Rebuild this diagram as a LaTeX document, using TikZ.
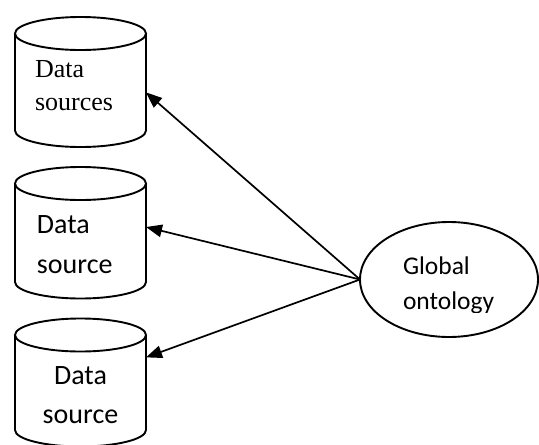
\documentclass[tikz,border=0pt]{standalone}
\usepackage{fontspec}
\setmainfont{Liberation Serif}
\newfontfamily\calibrifont{Carlito}
\usetikzlibrary{shapes.geometric,arrows.meta}

\begin{document}
\begin{tikzpicture}[x=1pt,y=-1pt,
  outline/.style={line width=1.9pt},
  body/.style={inner sep=0pt,outer sep=0pt,minimum width=131pt},
  lbl/.style={inner sep=0pt,outer sep=0pt,anchor=base west},
  link/.style={line width=1.7pt,-{Triangle[length=16pt,width=12.5pt]}},
  serifsize/.style={font=\fontsize{26}{30}\selectfont},
  sanssize/.style={font=\calibrifont\fontsize{28}{32}\selectfont},
  ovalsize/.style={font=\calibrifont\fontsize{25.5}{30}\selectfont},
]
\useasboundingbox (0,0) rectangle (539,445);

% cylinder bodies (the side walls); caps are drawn around them
\node[body,minimum height=97pt]   (ds1) at (80.5,82)    {};
\node[body,minimum height=98.5pt] (ds2) at (80.5,232.75){};
\node[body,minimum height=95pt]   (ds3) at (80.5,382.5) {};

\foreach \c in {ds1,ds2,ds3}{
  \draw[outline] (\c.north west) -- (\c.south west)
     arc[start angle=180,end angle=360,x radius=65.5pt,y radius=16.5pt]
     -- (\c.north east);
  \draw[outline] (\c.north) ellipse[x radius=65.5pt,y radius=16.5pt];
}

% labels inside the cylinders
\node[lbl,serifsize] (t1a) at (35,77)  {Data};
\node[lbl,serifsize] (t1b) at (35,110) {sources};
\node[lbl,sanssize]  (t2a) at (37,233) {Data};
\node[lbl,sanssize]  (t2b) at (37,273) {source};
\node[lbl,sanssize,anchor=base] (t3a) at (80.5,384) {Data};
\node[lbl,sanssize,anchor=base] (t3b) at (80.5,423) {source};

% global ontology; its text box cuts off the descenders
\node[ellipse,draw,outline,inner sep=0pt,outer sep=0pt,
      minimum width=178pt,minimum height=115pt] (go) at (449,279.5) {};
\begin{scope}
  \clip (395,240) rectangle (510,312.5);
  \node[lbl,ovalsize] (g1) at (403,274) {Global};
  \node[lbl,ovalsize] (g2) at (403,309) {ontology};
\end{scope}

% links from the ontology to each source
\draw[link] (go.west) -- (ds1.-9.5);
\draw[link] (go.west) -- (ds2.5.3);
\draw[link] (go.west) -- (ds3.21.5);
\end{tikzpicture}
\end{document}
